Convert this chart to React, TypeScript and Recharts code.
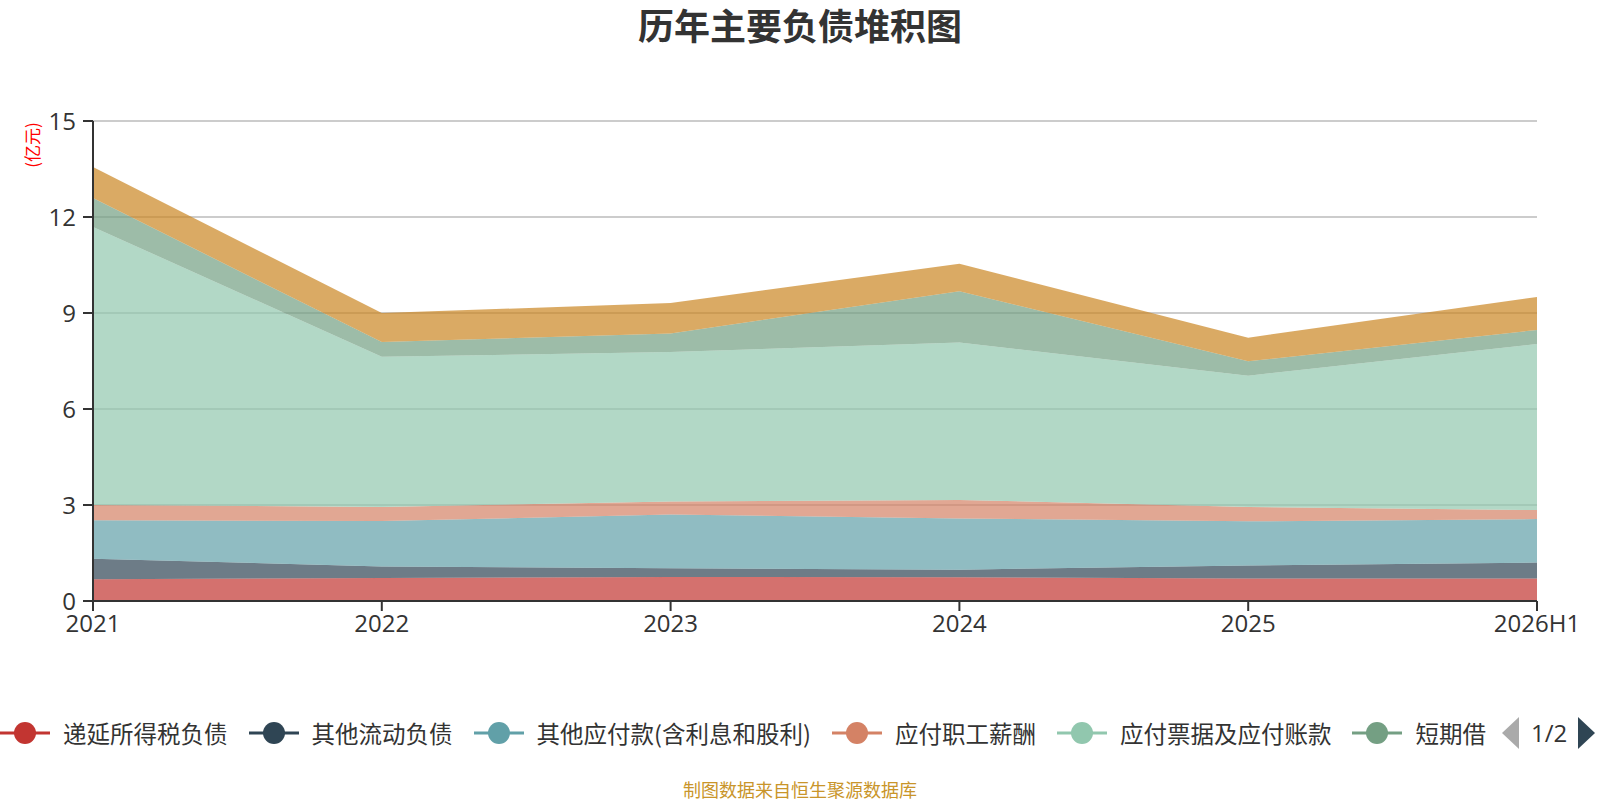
import React from 'react';
import { AreaChart, Area, XAxis, YAxis, CartesianGrid } from 'recharts';

const categories = ['2021', '2022', '2023', '2024', '2025', '2026H1'];
const deferredTax = [0.68, 0.72, 0.75, 0.74, 0.70, 0.70];
const otherCurrent = [0.64, 0.36, 0.27, 0.24, 0.41, 0.50];
const otherPayables = [1.20, 1.42, 1.68, 1.60, 1.38, 1.36];
const payroll = [0.48, 0.44, 0.41, 0.58, 0.45, 0.28];
const notesAccounts = [8.69, 4.69, 4.67, 4.92, 4.10, 5.19];
const shortLoans = [0.90, 0.46, 0.58, 1.60, 0.45, 0.44];
const contractLiab = [0.97, 0.91, 0.95, 0.86, 0.74, 1.03];
const yTicks = [0, 3, 6, 9, 12, 15];

const seriesList = [
  { key: 's1', name: '递延所得税负债', color: '#c23531', values: deferredTax },
  { key: 's2', name: '其他流动负债', color: '#2f4554', values: otherCurrent },
  { key: 's3', name: '其他应付款(含利息和股利)', color: '#61a0a8', values: otherPayables },
  { key: 's4', name: '应付职工薪酬', color: '#d48265', values: payroll },
  { key: 's5', name: '应付票据及应付账款', color: '#91c7ae', values: notesAccounts },
  { key: 's6', name: '短期借款', color: '#749f83', values: shortLoans },
  { key: 's7', name: '合同负债', color: '#ca8622', values: contractLiab },
];

const data = categories.map((c, i) => {
  const row: Record<string, any> = { name: c };
  seriesList.forEach((s) => {
    row[s.key] = s.values[i];
  });
  return row;
});

const FONT = '"Open Sans", "Noto Sans CJK SC", sans-serif';

export default function App() {
  const legendItems = seriesList.slice(0, 6);
  return (
    <div
      style={{
        position: 'absolute',
        left: 0,
        top: 0,
        width: 1600,
        height: 800,
        background: '#fff',
        fontFamily: FONT,
        overflow: 'hidden',
      }}
    >
      <div
        style={{
          position: 'absolute',
          left: 0,
          width: 1600,
          top: 5,
          textAlign: 'center',
          fontSize: 36,
          lineHeight: '38px',
          fontWeight: 'bold',
          color: '#333',
          fontFamily: '"Noto Sans CJK SC", sans-serif',
        }}
      >
        历年主要负债堆积图
      </div>
      <div
        style={{
          position: 'absolute',
          left: 32,
          top: 145,
          transform: 'translate(-50%, -50%) rotate(-90deg)',
          fontSize: 17,
          lineHeight: '18px',
          color: '#ff0000',
          whiteSpace: 'nowrap',
          fontFamily: '"Noto Sans CJK SC", sans-serif',
        }}
      >
        (亿元)
      </div>
      <AreaChart
        width={1600}
        height={800}
        data={data}
        margin={{ top: 121, right: 63, left: 0, bottom: 169 }}
      >
        <CartesianGrid vertical={false} stroke="#cccccc" strokeWidth={2} />
        <XAxis
          dataKey="name"
          height={30}
          interval={0}
          tickSize={10}
          tickMargin={4}
          axisLine={{ stroke: '#333', strokeWidth: 2 }}
          tickLine={{ stroke: '#333', strokeWidth: 2 }}
          tick={{ fill: '#333', fontSize: 24 }}
        />
        <YAxis
          width={93}
          domain={[0, 15]}
          ticks={yTicks}
          interval={0}
          tickSize={10}
          tickMargin={7}
          axisLine={{ stroke: '#333', strokeWidth: 2 }}
          tickLine={{ stroke: '#333', strokeWidth: 2 }}
          tick={{ fill: '#333', fontSize: 24 }}
        />
        {seriesList.map((s) => (
          <Area
            key={s.key}
            type="linear"
            dataKey={s.key}
            name={s.name}
            stackId="a"
            stroke="none"
            strokeWidth={0}
            fill={s.color}
            fillOpacity={0.7}
            dot={false}
            activeDot={false}
            isAnimationActive={false}
          />
        ))}
      </AreaChart>
      <div
        style={{
          position: 'absolute',
          left: 0,
          top: 717,
          width: 1486,
          height: 32,
          display: 'flex',
          alignItems: 'center',
          overflow: 'hidden',
          whiteSpace: 'nowrap',
        }}
      >
        {legendItems.map((s) => (
          <div key={s.key} style={{ display: 'flex', alignItems: 'center', marginRight: 21, flexShrink: 0 }}>
            <svg width={50} height={24} style={{ display: 'block' }}>
              <line x1={0} y1={12} x2={50} y2={12} stroke={s.color} strokeWidth={3} />
              <circle cx={25} cy={12} r={11} fill={s.color} />
            </svg>
            <span
              style={{
                marginLeft: 13,
                fontSize: 23.5,
                lineHeight: '32px',
                color: '#333',
                fontFamily: '"Noto Sans CJK SC", sans-serif',
              }}
            >
              {s.name}
            </span>
          </div>
        ))}
      </div>
      <div
        style={{
          position: 'absolute',
          left: 1500,
          top: 717,
          width: 100,
          height: 32,
          display: 'flex',
          alignItems: 'center',
        }}
      >
        <svg width={20} height={32} style={{ display: 'block' }}>
          <polygon points="19,0 2,16 19,32" fill="#aaaaaa" />
        </svg>
        <span style={{ marginLeft: 11, fontSize: 24, lineHeight: '32px', color: '#333' }}>1/2</span>
        <svg width={20} height={32} style={{ display: 'block', marginLeft: 10 }}>
          <polygon points="1,0 18,16 1,32" fill="#2f4554" />
        </svg>
      </div>
      <div
        style={{
          position: 'absolute',
          left: 0,
          width: 1600,
          top: 779,
          textAlign: 'center',
          fontSize: 18,
          lineHeight: '20px',
          color: '#c9952a',
          fontFamily: '"Noto Sans CJK SC", sans-serif',
        }}
      >
        制图数据来自恒生聚源数据库
      </div>
    </div>
  );
}
